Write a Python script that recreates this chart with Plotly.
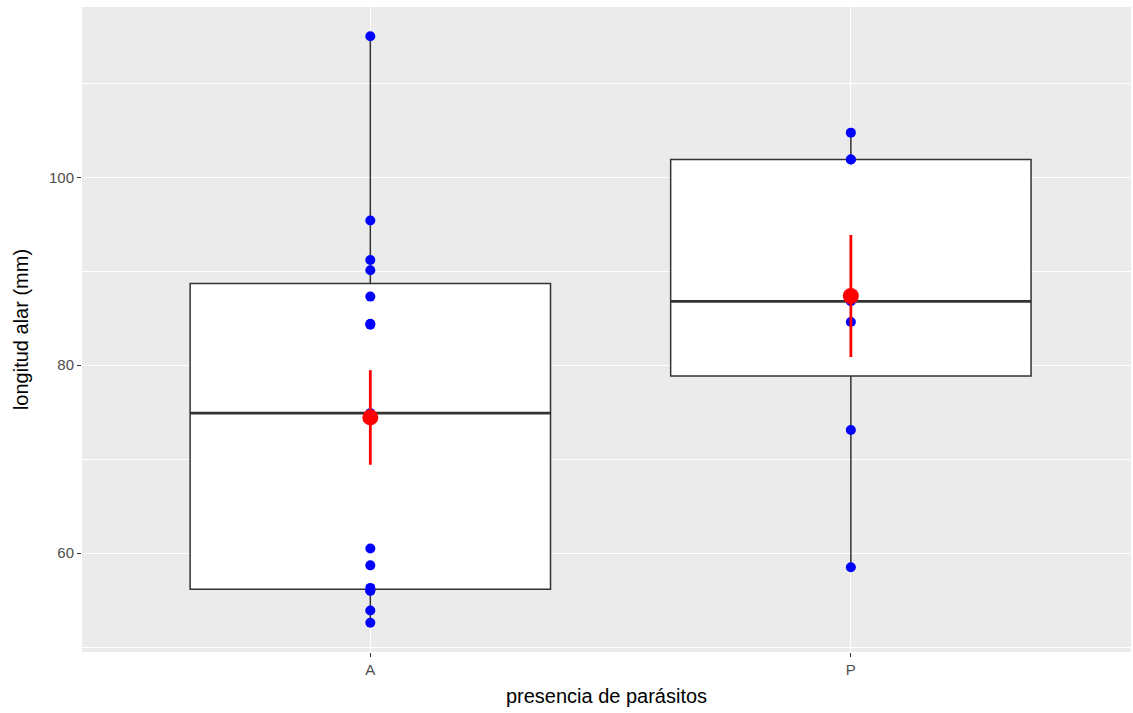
import numpy as np
import plotly.graph_objects as go

categories = ["A", "P"]
longitud_A = [115.0, 95.4, 91.2, 90.1, 87.3, 84.4, 84.3, 74.9, 60.5, 58.7, 56.3, 56.0, 56.0, 53.9, 52.6]
longitud_P = [104.75, 101.9, 101.9, 86.8, 84.6, 73.1, 58.5]
groups = [longitud_A, longitud_P]
y_ticks = [60, 80, 100]

BOX_W = 0.75
fig = go.Figure()

for i, vals in enumerate(groups):
    v = np.array(vals)
    fig.add_trace(go.Box(
        x=[i] * len(v), y=v, boxpoints=False, quartilemethod="inclusive",
        fillcolor="white", line=dict(color="#333333", width=1.5),
        whiskerwidth=0, width=BOX_W, showlegend=False, hoverinfo="skip"))
    med = float(np.quantile(v, 0.5))
    fig.add_trace(go.Scatter(
        x=[i - BOX_W / 2, i + BOX_W / 2], y=[med, med], mode="lines",
        line=dict(color="#333333", width=2.8), showlegend=False, hoverinfo="skip"))

for i, vals in enumerate(groups):
    v = np.array(vals)
    fig.add_trace(go.Scatter(
        x=[i] * len(v), y=v, mode="markers",
        marker=dict(color="#0000FF", size=10, line=dict(width=0)),
        showlegend=False))

for i, vals in enumerate(groups):
    v = np.array(vals)
    m = v.mean()
    se = v.std(ddof=1) / np.sqrt(len(v))
    fig.add_trace(go.Scatter(
        x=[i, i], y=[m - se, m + se], mode="lines",
        line=dict(color="#FF0000", width=2.8), showlegend=False))
    fig.add_trace(go.Scatter(
        x=[i], y=[m], mode="markers",
        marker=dict(color="#FF0000", size=16, line=dict(width=0)),
        showlegend=False))

allv = np.concatenate([np.array(g) for g in groups])
lo, hi = allv.min(), allv.max()
pad = (hi - lo) * 0.05

fig.update_layout(
    width=1133, height=713,
    margin=dict(l=82, r=2, t=7, b=61),
    paper_bgcolor="white", plot_bgcolor="#EBEBEB",
    font=dict(family="Liberation Sans, Arial, sans-serif", color="#000000"),
    xaxis=dict(
        range=[-0.6, 1.583],
        tickvals=list(range(len(categories))), ticktext=categories,
        showgrid=True, gridcolor="white", gridwidth=1.1, zeroline=False,
        ticks="outside", ticklen=4, tickcolor="#333333", tickwidth=1,
        tickfont=dict(size=15, color="#4D4D4D"),
        title=dict(text="presencia de parásitos", font=dict(size=20, color="#000000"), standoff=11),
        automargin=False,
    ),
    yaxis=dict(
        range=[lo - pad, hi + pad],
        tickvals=y_ticks,
        showgrid=True, gridcolor="white", gridwidth=1.1, zeroline=False,
        minor=dict(dtick=10, tick0=50, showgrid=True, gridcolor="white", gridwidth=0.55),
        ticks="outside", ticklen=4, tickcolor="#333333", tickwidth=1,
        tickfont=dict(size=15, color="#4D4D4D"),
        title=dict(text="longitud alar (mm)", font=dict(size=20, color="#000000"), standoff=14),
        automargin=False,
    ),
)

fig.write_html("out.html", config={"displayModeBar": False},
               post_script="document.body.style.margin='0';document.body.style.overflow='hidden';")
